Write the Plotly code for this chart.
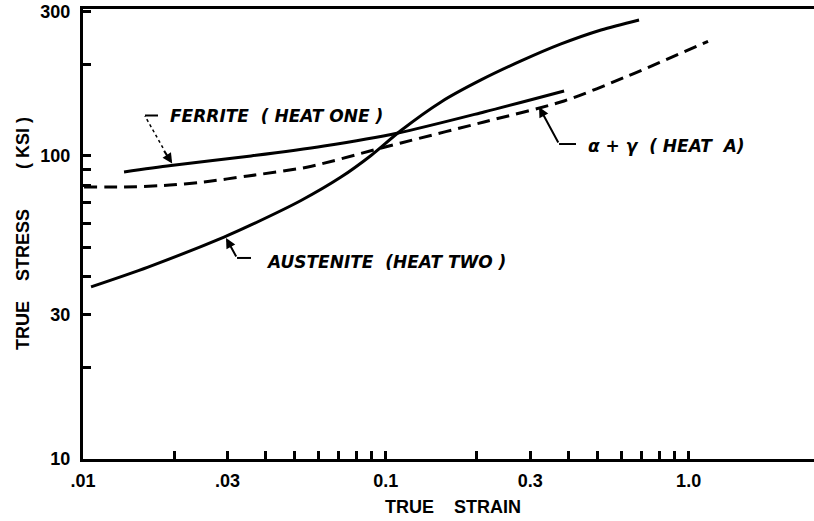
import numpy as np
import plotly.graph_objects as go

# ---- data (true strain, true stress in ksi) ----
ferrite_strain = [0.01366, 0.01953, 0.03588, 0.06249, 0.1097, 0.2110, 0.3879]
ferrite_stress = [88.6, 93.0, 100.0, 107.9, 119.1, 139.7, 163.9]

austenite_strain = [0.01063, 0.01640, 0.02922, 0.03588, 0.05247, 0.07112, 0.08935,
                    0.1122, 0.1522, 0.2062, 0.2796, 0.3791, 0.5137, 0.6858]
austenite_stress = [37.0, 43.0, 54.0, 59.2, 71.3, 85.2, 100.4,
                    121.4, 150.8, 178.2, 205.9, 234.3, 260.5, 281.1]

alpha_gamma_strain = [0.01008, 0.01366, 0.01852, 0.02510, 0.03507, 0.05535, 0.09141,
                      0.1122, 0.2110, 0.3879, 0.6308, 1.159]
alpha_gamma_stress = [79.0, 79.0, 79.9, 82.1, 85.9, 92.0, 104.7,
                      110.4, 129.5, 151.9, 183.7, 239.0]

x_tickvals = [0.01, 0.02, 0.03, 0.04, 0.05, 0.06, 0.07, 0.08, 0.09, 0.1,
              0.2, 0.3, 0.4, 0.5, 0.6, 0.7, 0.8, 0.9, 1.0]
x_ticktext = [".01", "", ".03", "", "", "", "", "", "", "0.1",
              "", "0.3", "", "", "", "", "", "", "1.0"]
y_tickvals = [10, 20, 30, 40, 50, 60, 70, 80, 90, 100, 200, 300]
y_ticktext = ["10", "", "30", "", "", "", "", "", "", "100", "", "300"]

label_ferrite = "FERRITE  ( HEAT ONE )"
label_austenite = "AUSTENITE  (HEAT TWO )"
label_alpha = "α + γ  ( HEAT  A)"
x_title = "TRUE    STRAIN"
y_title = "TRUE    STRESS        ( KSI )"

LW = 3
fig = go.Figure()
fig.add_trace(go.Scatter(x=ferrite_strain, y=ferrite_stress, mode="lines",
                         line=dict(color="black", width=LW, shape="spline", smoothing=0.8),
                         showlegend=False, hoverinfo="skip"))
fig.add_trace(go.Scatter(x=austenite_strain, y=austenite_stress, mode="lines",
                         line=dict(color="black", width=LW, shape="spline", smoothing=0.8),
                         showlegend=False, hoverinfo="skip"))
fig.add_trace(go.Scatter(x=alpha_gamma_strain, y=alpha_gamma_stress, mode="lines",
                         line=dict(color="black", width=LW, shape="spline", smoothing=0.8,
                                   dash="13px,7px"),
                         showlegend=False, hoverinfo="skip"))

axis_font = dict(family="Liberation Sans, Arial, sans-serif", size=18, color="black", weight="bold")
lab_font = dict(family="DejaVu Sans, sans-serif", size=17, color="black", weight="bold", style="italic")

fig.update_xaxes(type="log", range=[-2, 0.414], showgrid=False, zeroline=False,
                 showline=True, linecolor="black", linewidth=3, mirror=True,
                 ticks="inside", ticklen=8, tickwidth=2.5, tickcolor="black",
                 tickvals=x_tickvals, ticktext=x_ticktext, tickfont=axis_font,
                 ticklabelstandoff=3)
fig.update_yaxes(type="log", range=[1, 2.485], showgrid=False, zeroline=False,
                 showline=True, linecolor="black", linewidth=3,
                 ticks="inside", ticklen=8, tickwidth=2.5, tickcolor="black",
                 tickvals=y_tickvals, ticktext=y_ticktext, tickfont=axis_font,
                 ticklabelstandoff=6)

L = np.log10
ann = []
# curve labels
ann.append(dict(x=L(0.01909), y=L(135.5), xref="x", yref="y", text=label_ferrite,
                showarrow=False, xanchor="left", yanchor="middle", font=lab_font))
ann.append(dict(x=L(0.03962), y=L(44.7), xref="x", yref="y", text=label_austenite,
                showarrow=False, xanchor="left", yanchor="middle", font=lab_font))
ann.append(dict(x=L(0.4584), y=L(107.9), xref="x", yref="y", text=label_alpha,
                showarrow=False, xanchor="left", yanchor="middle", font=lab_font))
# leader arrows
arrow = dict(showarrow=True, arrowhead=2, arrowsize=1, arrowwidth=2, arrowcolor="black",
             text="", xref="x", yref="y", standoff=0, startstandoff=0)
ann.append(dict(arrow, x=L(0.0197), y=L(94.5), ax=-9, ay=-14))
ann.append(dict(arrow, x=L(0.02967), y=L(53.6), ax=11, ay=20))
ann.append(dict(arrow, x=L(0.3207), y=L(145.1), ax=20, ay=37))
# axis titles
ann.append(dict(x=0.5, y=0, xref="paper", yref="paper", text=x_title, showarrow=False,
                xanchor="center", yanchor="middle", xshift=4, yshift=-48, font=axis_font))
ann.append(dict(x=0, y=0.5, xref="paper", yref="paper", text=y_title, showarrow=False,
                textangle=-90, xanchor="center", yanchor="middle", xshift=-60, yshift=0,
                font=axis_font))

shapes = [
    dict(type="line", xref="x", yref="y", x0=0.01837, y0=106.3, x1=0.01602, y1=135.5,
         line=dict(color="black", width=1.5, dash="dot")),
    dict(type="line", xref="x", yref="y", x0=0.01602, y0=136, x1=0.01769, y1=136,
         line=dict(color="black", width=2)),
    dict(type="line", xref="x", yref="y", x0=0.03226, y0=46.07, x1=0.03588, y1=46.07,
         line=dict(color="black", width=2)),
    dict(type="line", xref="x", yref="y", x0=0.3733, y0=109.5, x1=0.4247, y1=109.5,
         line=dict(color="black", width=2)),
]

fig.update_layout(width=814, height=521, margin=dict(l=83, r=0, t=9, b=62),
                  paper_bgcolor="white", plot_bgcolor="white",
                  annotations=ann, shapes=shapes, showlegend=False)

fig.write_html("out.html", config={"displayModeBar": False})
